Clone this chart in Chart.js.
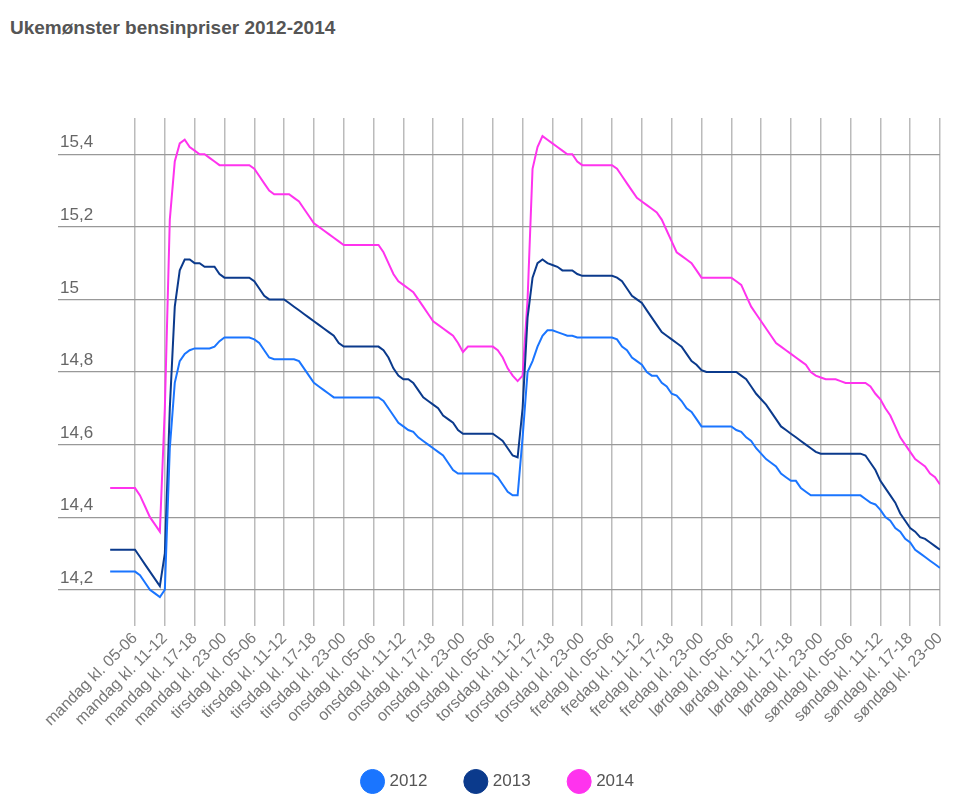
<!DOCTYPE html>
<html>
<head>
<meta charset="utf-8">
<script src="https://cdn.jsdelivr.net/npm/chart.js@4/dist/chart.umd.min.js"></script>
<style>
  body { margin: 0; background: #fff; font-family: "Liberation Sans", Arial, sans-serif; }
  h1 { position: absolute; left: 10px; top: 17px; margin: 0; font-size: 19px; color: #555; font-weight: bold; }
  #wrap { position: absolute; left: 0; top: 0; width: 960px; height: 804px; }
</style>
</head>
<body>
<h1>Ukemønster bensinpriser 2012-2014</h1>
<div id="wrap"><canvas id="chart"></canvas></div>
<script>
  const days = ["mandag", "tirsdag", "onsdag", "torsdag", "fredag", "lørdag", "søndag"];
  const yTicks = [14.2, 14.4, 14.6, 14.8, 15, 15.2, 15.4];
  const labelHours = [5, 11, 17, 23];

  const v2012 = [
    14.25, 14.25, 14.25, 14.25, 14.25,
    14.25, 14.24, 14.22, 14.20, 14.19, 14.18,
    14.20, 14.59, 14.77, 14.83, 14.85, 14.86, 14.865, 14.865, 14.865, 14.865, 14.87, 14.885,
    14.895, 14.895, 14.895, 14.895, 14.895, 14.895,
    14.89, 14.88, 14.86, 14.84, 14.835, 14.835, 14.835, 14.835, 14.835, 14.83, 14.81, 14.79, 14.77, 14.76, 14.75, 14.74, 14.73, 14.73, 14.73,
    14.73, 14.73, 14.73, 14.73, 14.73, 14.73, 14.73,
    14.72, 14.70, 14.68, 14.66, 14.65, 14.64, 14.635, 14.62, 14.61, 14.60, 14.59, 14.58, 14.57, 14.55, 14.53, 14.52, 14.52, 14.52,
    14.52, 14.52, 14.52, 14.52, 14.52,
    14.51, 14.49, 14.47, 14.46, 14.46, 14.62,
    14.80, 14.83, 14.87, 14.90, 14.915, 14.915, 14.91, 14.905, 14.90, 14.90, 14.895, 14.895,
    14.895, 14.895, 14.895, 14.895, 14.895, 14.895,
    14.89, 14.87, 14.86, 14.84, 14.83, 14.82, 14.80, 14.79, 14.79, 14.77, 14.76, 14.74, 14.735, 14.72, 14.70, 14.69, 14.67, 14.65,
    14.65, 14.65, 14.65, 14.65, 14.65, 14.65,
    14.64, 14.635, 14.62, 14.61, 14.59, 14.575, 14.56, 14.55, 14.54, 14.52, 14.51, 14.50, 14.50, 14.48, 14.47, 14.46, 14.46, 14.46, 14.46, 14.46, 14.46, 14.46,
    14.46, 14.46, 14.46, 14.46,
    14.45, 14.44, 14.435, 14.42, 14.40, 14.39, 14.37, 14.36, 14.34, 14.33, 14.31, 14.30, 14.29, 14.28, 14.27, 14.26
  ];

  const v2013 = [
    14.31, 14.31, 14.31, 14.31, 14.31,
    14.31, 14.29, 14.27, 14.25, 14.23, 14.21,
    14.30, 14.70, 14.98, 15.08, 15.11, 15.11, 15.10, 15.10, 15.09, 15.09, 15.09, 15.07,
    15.06, 15.06, 15.06, 15.06, 15.06, 15.06,
    15.05, 15.03, 15.01, 15.00, 15.00, 15.00, 15.00, 14.99, 14.98, 14.97, 14.96, 14.95, 14.94, 14.93, 14.92, 14.91, 14.90, 14.88, 14.87,
    14.87, 14.87, 14.87, 14.87, 14.87, 14.87, 14.87,
    14.86, 14.84, 14.81, 14.79, 14.78, 14.78, 14.77, 14.75, 14.73, 14.72, 14.71, 14.70, 14.68, 14.67, 14.66, 14.64, 14.63, 14.63,
    14.63, 14.63, 14.63, 14.63, 14.63,
    14.62, 14.61, 14.59, 14.57, 14.565, 14.70,
    14.95, 15.06, 15.10, 15.11, 15.10, 15.095, 15.09, 15.08, 15.08, 15.08, 15.07, 15.065,
    15.065, 15.065, 15.065, 15.065, 15.065, 15.065,
    15.06, 15.05, 15.03, 15.01, 15.00, 14.99, 14.97, 14.95, 14.93, 14.91, 14.90, 14.89, 14.88, 14.87, 14.85, 14.83, 14.82, 14.805,
    14.80, 14.80, 14.80, 14.80, 14.80, 14.80,
    14.80, 14.79, 14.78, 14.76, 14.74, 14.725, 14.71, 14.69, 14.67, 14.65, 14.64, 14.63, 14.62, 14.61, 14.60, 14.59, 14.58, 14.575, 14.575, 14.575, 14.575, 14.575,
    14.575, 14.575, 14.575, 14.575,
    14.57, 14.55, 14.53, 14.50, 14.48, 14.46, 14.44, 14.41, 14.39, 14.37, 14.36, 14.345, 14.34, 14.33, 14.32, 14.31
  ];

  const v2014 = [
    14.48, 14.48, 14.48, 14.48, 14.48,
    14.48, 14.46, 14.43, 14.40, 14.38, 14.36,
    14.70, 15.22, 15.38, 15.43, 15.44, 15.42, 15.41, 15.40, 15.40, 15.39, 15.38, 15.37,
    15.37, 15.37, 15.37, 15.37, 15.37, 15.37,
    15.36, 15.34, 15.32, 15.30, 15.29, 15.29, 15.29, 15.29, 15.28, 15.27, 15.25, 15.23, 15.21, 15.20, 15.19, 15.18, 15.17, 15.16, 15.15,
    15.15, 15.15, 15.15, 15.15, 15.15, 15.15, 15.15,
    15.13, 15.10, 15.07, 15.05, 15.04, 15.03, 15.02, 15.00, 14.98, 14.96, 14.94, 14.93, 14.92, 14.91, 14.90, 14.88, 14.855, 14.87,
    14.87, 14.87, 14.87, 14.87, 14.87,
    14.86, 14.84, 14.81, 14.79, 14.775, 14.79,
    15.00, 15.36, 15.42, 15.45, 15.44, 15.43, 15.42, 15.41, 15.40, 15.40, 15.38, 15.37,
    15.37, 15.37, 15.37, 15.37, 15.37, 15.37,
    15.36, 15.34, 15.32, 15.30, 15.28, 15.27, 15.26, 15.25, 15.24, 15.22, 15.19, 15.16, 15.13, 15.12, 15.11, 15.10, 15.08, 15.06,
    15.06, 15.06, 15.06, 15.06, 15.06, 15.06,
    15.05, 15.04, 15.01, 14.98, 14.96, 14.94, 14.92, 14.90, 14.88, 14.87, 14.86, 14.85, 14.84, 14.83, 14.82, 14.80, 14.79, 14.785, 14.78, 14.78, 14.78, 14.775,
    14.77, 14.77, 14.77, 14.77,
    14.77, 14.76, 14.74, 14.725, 14.70, 14.68, 14.65, 14.62, 14.60, 14.58, 14.56, 14.55, 14.54, 14.52, 14.51, 14.49
  ];

  function pad(n) { return String(n).padStart(2, "0"); }

  // one label per hour of the week, "mandag kl. 05-06"
  const hourLabels = [];
  days.forEach((d) => {
    for (let h = 0; h < 24; h++) hourLabels.push(d + " kl. " + pad(h) + "-" + pad((h + 1) % 24));
  });

  const toPoints = (arr) => arr.map((y, i) => ({ x: i, y: y }));

  // y labels sit above their grid line, left aligned, like the original
  const yLabelPlugin = {
    id: "yLabels",
    afterDraw(chart) {
      const ctx = chart.ctx;
      const y = chart.scales.y;
      ctx.save();
      ctx.font = "17px 'Liberation Sans', Arial, sans-serif";
      ctx.fillStyle = "#666";
      ctx.textAlign = "left";
      ctx.textBaseline = "bottom";
      yTicks.forEach((t) => {
        ctx.fillText(String(t).replace(".", ","), chart.chartArea.left + 2, y.getPixelForValue(t) - 3);
      });
      ctx.restore();
    },
  };

  new Chart(document.getElementById("chart"), {
    type: "line",
    data: {
      datasets: [
        { label: "2012", data: toPoints(v2012), borderColor: "#1a75ff", backgroundColor: "#1a75ff" },
        { label: "2013", data: toPoints(v2013), borderColor: "#0b3a8c", backgroundColor: "#0b3a8c" },
        { label: "2014", data: toPoints(v2014), borderColor: "#ff33ee", backgroundColor: "#ff33ee" },
      ],
    },
    options: {
      responsive: true,
      maintainAspectRatio: false,
      animation: false,
      layout: { padding: { left: 58, right: 20, top: 118, bottom: 4 } },
      elements: {
        line: { borderWidth: 2, tension: 0 },
        point: { radius: 0 },
      },
      plugins: {
        legend: {
          position: "bottom",
          labels: {
            usePointStyle: true,
            pointStyle: "circle",
            boxWidth: 22,
            boxHeight: 22,
            padding: 40,
            color: "#555",
            font: { size: 17, family: "'Liberation Sans', Arial, sans-serif" },
          },
        },
        tooltip: { enabled: false },
      },
      scales: {
        x: {
          type: "linear",
          min: -10.5,
          max: 167,
          afterBuildTicks(axis) {
            const ticks = [];
            for (let d = 0; d < days.length; d++) {
              labelHours.forEach((h) => ticks.push({ value: d * 24 + h }));
            }
            axis.ticks = ticks;
          },
          ticks: {
            autoSkip: false,
            minRotation: 45,
            maxRotation: 45,
            color: "#777",
            font: { size: 16, family: "'Liberation Sans', Arial, sans-serif" },
            callback: (v) => hourLabels[v],
          },
          grid: { color: "#bbb", lineWidth: 1.5, tickLength: 0 },
          border: { display: false },
        },
        y: {
          min: 14.1,
          max: 15.5,
          afterBuildTicks(axis) {
            axis.ticks = yTicks.map((v) => ({ value: v }));
          },
          ticks: { display: false },
          grid: { color: "#999", lineWidth: 1.2, tickLength: 0 },
          border: { display: false },
        },
      },
    },
    plugins: [yLabelPlugin],
  });
</script>
</body>
</html>
